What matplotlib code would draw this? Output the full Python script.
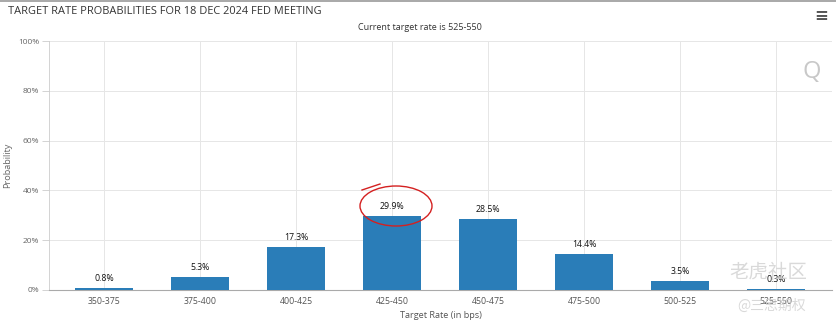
import matplotlib.pyplot as plt
from matplotlib.patches import Ellipse
from matplotlib.transforms import IdentityTransform

categories = ["350-375", "375-400", "400-425", "425-450", "450-475", "475-500", "500-525", "525-550"]
probs = [0.8, 5.3, 17.3, 29.9, 28.5, 14.4, 3.5, 0.3]
yticks = [0, 20, 40, 60, 80, 100]

plt.rcParams['font.family'] = ['Open Sans', 'DejaVu Sans']

W, H = 836, 328
fig = plt.figure(figsize=(W / 100, H / 100), dpi=100)
ax = fig.add_axes([49 / W, 1 - 290 / H, (832 - 49) / W, (290 - 41) / H])

x = list(range(len(categories)))
ax.bar(x, probs, width=0.6, color='#2a7db8', zorder=3)
for xi, p in zip(x, probs):
    ax.text(xi, p + 2, f"{p}%", ha='center', va='bottom', fontsize=6.3, color='#111111', zorder=4)

ax.set_xlim(-0.573, 7.583)
ax.set_ylim(0, 100)
ax.set_xticks(x)
ax.set_xticklabels(categories)
ax.set_yticks(yticks)
ax.set_yticklabels([f"{t}%" for t in yticks])
ax.tick_params(axis='x', length=0, labelsize=6.3, colors='#555555', pad=5)
ax.tick_params(axis='y', length=5, width=0.6, color='#cccccc', labelsize=6, labelcolor='#666666', pad=2)
ax.grid(True, color='#e6e6e6', linewidth=0.7, zorder=0)
for s in ['top', 'right']:
    ax.spines[s].set_visible(False)
ax.spines['left'].set_color('#cccccc')
ax.spines['left'].set_linewidth(0.6)
ax.spines['bottom'].set_color('#aaaaaa')
ax.spines['bottom'].set_linewidth(0.8)

ax.set_xlabel("Target Rate (in bps)", fontsize=6.6, color='#555555', labelpad=4)
ax.set_ylabel("Probability", fontsize=6.6, color='#666666')
ax.yaxis.set_label_coords(-0.047, 0.5)

# red hand-drawn highlight around the 29.9% label (pixel coords)
fig.add_artist(Ellipse((396, H - 206), 72, 40, fill=False, edgecolor='#d42020',
                       linewidth=1.0, transform=IdentityTransform(), zorder=5))
fig.add_artist(plt.Line2D([362, 380], [H - 190, H - 184], color='#d42020', linewidth=1.0,
                          transform=IdentityTransform()))

fig.text(8 / W, 1 - 12 / H, "TARGET RATE PROBABILITIES FOR 18 DEC 2024 FED MEETING",
         fontsize=7.9, color='#333333', ha='left', va='center')
fig.text(420 / W, 1 - 28 / H, "Current target rate is 525-550",
         fontsize=6.5, color='#333333', ha='center', va='center')
fig.text(821 / W, 1 - 16 / H, "\u2261", fontsize=12, color='#555555', ha='center', va='center', fontweight='bold')
fig.text(812 / W, 1 - 72 / H, "Q", fontsize=17, color='#c8c8c8', ha='center', va='center')
fig.add_artist(plt.Line2D([0, 1], [1 - 1 / H, 1 - 1 / H], color='#999999', linewidth=1.2))

# watermark
fig.text(768 / W, 1 - 272 / H, "老虎社区", fontsize=14, color='#d0d0d0', alpha=0.8,
         family=['Noto Sans CJK SC', 'DejaVu Sans'], ha='center', va='center')
fig.text(772 / W, 1 - 306 / H, "@三思期权", fontsize=10, color='#d0d0d0', alpha=0.8,
         family=['Noto Sans CJK SC', 'DejaVu Sans'], ha='center', va='center')

fig.savefig("out.png", dpi=100)
